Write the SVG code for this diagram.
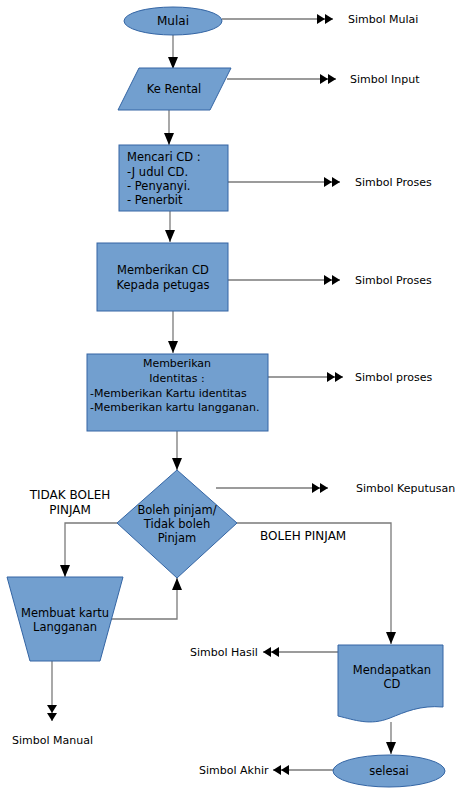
<svg xmlns="http://www.w3.org/2000/svg" width="474" height="790" viewBox="0 0 474 790">
<defs>
<style>
.n{fill:#729fcf;stroke:#3465a4;stroke-width:1}
.t{font-family:"DejaVu Sans",sans-serif;font-size:11px;fill:#000}
.m{font-size:11.5px}
.b{font-size:12px}
.c{text-anchor:middle}
.l{fill:none;stroke:#7a7a7a;stroke-width:1.3}
</style>
<marker id="a" viewBox="0 0 12 10" refX="12" refY="5" markerWidth="12" markerHeight="10" markerUnits="userSpaceOnUse" orient="auto"><path d="M0,0 L12,5 L0,10 Z" fill="#000"/></marker>
<marker id="d" viewBox="0 0 16 10" refX="16" refY="5" markerWidth="16" markerHeight="10" markerUnits="userSpaceOnUse" orient="auto"><path d="M0,0 L8,5 L0,10 Z M8,0 L16,5 L8,10 Z" fill="#000"/></marker>
</defs>
<rect width="474" height="790" fill="#fff"/>
<g id="connectors">
<path class="l" d="M222,19 H333" marker-end="url(#d)"/>
<path class="l" d="M173,35 V69" marker-end="url(#a)"/>
<path class="l" d="M227,79 H336" marker-end="url(#d)"/>
<path class="l" d="M169,110 V145" marker-end="url(#a)"/>
<path class="l" d="M228,182 H340" marker-end="url(#d)"/>
<path class="l" d="M170,211 V242" marker-end="url(#a)"/>
<path class="l" d="M228,280 H340" marker-end="url(#d)"/>
<path class="l" d="M173,311 V353" marker-end="url(#a)"/>
<path class="l" d="M268,377 H343" marker-end="url(#d)"/>
<path class="l" d="M177,431 V470" marker-end="url(#a)"/>
<path class="l" d="M216,488 H328" marker-end="url(#d)"/>
<path class="l" d="M117,523 H65 V577" marker-end="url(#a)"/>
<path class="l" d="M110,619 H177 V578" marker-end="url(#a)"/>
<path class="l" d="M52,661 V721" marker-end="url(#d)"/>
<path class="l" d="M237,523 H391 V644" marker-end="url(#a)"/>
<path class="l" d="M338,652 H263" marker-end="url(#d)"/>
<path class="l" d="M391,722 V754" marker-end="url(#a)"/>
<path class="l" d="M333,770 H273" marker-end="url(#d)"/>
</g>
<g id="mulai"><ellipse class="n" cx="173" cy="21" rx="49" ry="14"/><text class="t b c" x="173" y="25">Mulai</text></g>
<g id="ke-rental"><path class="n" d="M139,68 H231 L210,110 H118 Z"/><text class="t m c" x="174" y="93">Ke Rental</text></g>
<g id="mencari-cd"><rect class="n" x="119" y="145" width="109" height="66"/>
<text class="t m" x="127" y="161">Mencari CD :</text><text class="t m" x="127" y="176">-J udul CD.</text><text class="t m" x="127" y="190">- Penyanyi.</text><text class="t m" x="127" y="204">- Penerbit</text></g>
<g id="memberikan-cd"><rect class="n" x="97" y="243" width="131" height="68"/>
<text class="t m c" x="163" y="274">Memberikan CD</text><text class="t m c" x="163" y="289">Kepada petugas</text></g>
<g id="memberikan-identitas"><rect class="n" x="87" y="354" width="181" height="77"/>
<text class="t c" x="177" y="367">Memberikan</text><text class="t c" x="177" y="382">Identitas :</text><text class="t" x="90" y="397">-Memberikan Kartu identitas</text><text class="t" x="90" y="411">-Memberikan kartu langganan.</text></g>
<g id="keputusan"><path class="n" d="M177,470 L237,523 L177,578 L117,523 Z"/>
<text class="t m c" x="177" y="514">Boleh pinjam/</text><text class="t m c" x="177" y="528">Tidak boleh</text><text class="t m c" x="177" y="542">Pinjam</text></g>
<g id="membuat-kartu"><path class="n" d="M7,577 H123 L100,661 H30 Z"/>
<text class="t m c" x="65" y="617">Membuat kartu</text><text class="t m c" x="65" y="631">Langganan</text></g>
<g id="mendapatkan-cd"><path class="n" d="M338,645 H443 V707 C420,705 405,712 390,718 C370,726 355,720 338,716 Z"/>
<text class="t m c" x="392" y="674">Mendapatkan</text><text class="t m c" x="392" y="688">CD</text></g>
<g id="selesai"><ellipse class="n" cx="389" cy="771" rx="56" ry="16"/><text class="t m c" x="389" y="775">selesai</text></g>
<g id="labels">
<text class="t" x="348" y="23">Simbol Mulai</text>
<text class="t" x="350" y="83">Simbol Input</text>
<text class="t" x="355" y="186">Simbol Proses</text>
<text class="t" x="355" y="284">Simbol Proses</text>
<text class="t" x="355" y="381">Simbol proses</text>
<text class="t" x="356" y="492">Simbol Keputusan</text>
<text class="t b c" x="70" y="499">TIDAK BOLEH</text>
<text class="t b c" x="70" y="514">PINJAM</text>
<text class="t b" x="260" y="540">BOLEH PINJAM</text>
<text class="t" x="12" y="744">Simbol Manual</text>
<text class="t" x="190" y="656">Simbol Hasil</text>
<text class="t" x="199" y="774">Simbol Akhir</text>
</g>
</svg>
